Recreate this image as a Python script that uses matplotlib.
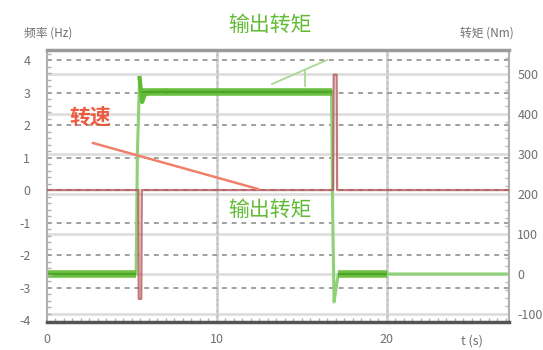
#!/usr/bin/env python

import numpy as np
import matplotlib
matplotlib.use('Agg')
import matplotlib.pyplot as plt
from matplotlib.ticker import MultipleLocator

plt.rcParams['font.family'] = ['Noto Sans CJK SC', 'DejaVu Sans']
plt.rcParams['axes.unicode_minus'] = False

# ======================== data ===============================================
# output torque (Nm, right axis)
torque_t = [0, 5.25, 5.32, 5.45, 5.6, 5.75, 6.0, 7.0, 16.75, 16.82, 16.9, 17.0, 17.15, 20.0, 27.2]
torque_v = [0, 0, 300, 490, 430, 448, 455, 458, 458, 150, -70, -40, 0, 0, 0]
# noisy (thick) stretches of the torque trace
band_start = [0, 5.6, 17.15]
band_end = [5.25, 16.75, 20.0]
band_level = [0, 455, 0]

# speed / frequency (Hz, left axis)
freq_t = [0, 5.38, 5.4, 5.55, 5.58, 16.85, 16.88, 17.05, 17.08, 27.2]
freq_v = [0, 0, -3.35, -3.35, 0, 0, 3.55, 3.55, 0, 0]

left_ticks = [-4, -3, -2, -1, 0, 1, 2, 3, 4]
right_ticks = [-100, 0, 100, 200, 300, 400, 500]
x_ticks = [0, 10, 20]

L_LIM = (-4.06, 4.31)
R_LIM = (-120, 560)
X_LIM = (0, 27.2)

green = '#62bb34'
green_light = '#8fd176'
red = '#b5575a'
grey_txt = '#707070'


def left_to_right(v):
    """map a left axis value onto the right axis scale"""
    f = (v - L_LIM[0]) / (L_LIM[1] - L_LIM[0])
    return R_LIM[0] + f * (R_LIM[1] - R_LIM[0])


fig = plt.figure(figsize=(5.43, 3.5), dpi=100)
ax1 = fig.add_axes([47/543, 1 - 322/350, 462/543, 272/350])
ax2 = ax1.twinx()
ax1.set_zorder(ax2.get_zorder() + 1)
ax1.patch.set_visible(False)

ax1.set_xlim(*X_LIM)
ax1.set_ylim(*L_LIM)
ax2.set_ylim(*R_LIM)

# grid: right axis solid light, left axis dashed, vertical light
for r in right_ticks:
    ax2.axhline(r, color='#dedede', lw=2, zorder=1)
for v in left_ticks[1:]:
    ax2.axhline(left_to_right(v), color='#a0a0a0', lw=1.4, ls=(0, (2.5, 2.5)), zorder=1.5)
for x in [10, 20]:
    ax2.axvline(x, color='#d2d2d2', lw=2, zorder=1)
    ax2.axvline(x, color='#b0b0b0', lw=1, ls=(0, (1, 3)), zorder=1.2)

# torque
ax2.plot(torque_t, torque_v, color=green_light, lw=2.2, zorder=3)
ax2.plot(torque_t[3:8], torque_v[3:8], color=green, lw=3, zorder=3.2)
ax2.hlines(band_level, band_start, band_end, color=green, lw=5.5, alpha=0.9, zorder=3.5)
ax2.hlines(band_level, band_start, band_end, color='#4ea628', lw=1.5, zorder=3.6)

# frequency
ax1.plot(freq_t, freq_v, color=red, lw=1.6, alpha=0.8, zorder=4)

# spines
for s in ['left', 'right']:
    ax1.spines[s].set_color('#b0b0b0')
    ax1.spines[s].set_linewidth(1.5)
ax1.spines['top'].set_color('#9a9a9a')
ax1.spines['top'].set_linewidth(2.5)
ax1.spines['bottom'].set_color('#555555')
ax1.spines['bottom'].set_linewidth(2.5)
for s in ax2.spines.values():
    s.set_visible(False)

ax1.set_yticks(left_ticks)
ax1.set_xticks(x_ticks)
ax2.set_yticks(right_ticks)
ax1.yaxis.set_minor_locator(MultipleLocator(0.2))
ax1.xaxis.set_minor_locator(MultipleLocator(0.5))
ax2.yaxis.set_minor_locator(MultipleLocator(20))

ax1.tick_params(axis='both', which='major', length=0, labelsize=9, labelcolor=grey_txt)
ax1.tick_params(axis='y', which='major', pad=12)
ax1.tick_params(axis='x', which='major', pad=8)
ax1.tick_params(axis='both', which='minor', direction='in', length=3, color='#b0b0b0', width=1)
ax2.tick_params(axis='y', which='major', length=0, labelsize=9, labelcolor=grey_txt, pad=6)
ax2.tick_params(axis='y', which='minor', direction='in', length=3, color='#b8b8b8', width=1)

# axis titles
fig.text(24/543, 1 - 33/350, '频率 (Hz)', fontsize=8.5, color=grey_txt, va='center', ha='left')
fig.text(460/543, 1 - 33/350, '转矩 (Nm)', fontsize=8.5, color=grey_txt, va='center', ha='left')
fig.text(472/543, 1 - 341/350, 't (s)', fontsize=9, color=grey_txt, va='center', ha='center')

# annotations
fig.text(270/543, 1 - 25/350, '输出转矩', fontsize=15, color=green, ha='center', va='center')
fig.text(270/543, 1 - 210/350, '输出转矩', fontsize=15, color=green, ha='center', va='center')
fig.text(90/543, 1 - 117/350, '转速', fontsize=15, color='#ea4a2c', ha='center', va='center',
         fontweight='bold', alpha=0.9)
fig.add_artist(plt.Line2D([93/543, 258/543], [1 - 143/350, 1 - 189/350],
                          color='#f0806c', lw=1.8, transform=fig.transFigure))
fig.add_artist(plt.Line2D([327/543, 272/543], [1 - 60/350, 1 - 84/350],
                          color='#a9d994', lw=1.3, transform=fig.transFigure))
fig.add_artist(plt.Line2D([305/543, 305/543], [1 - 70/350, 1 - 86/350],
                          color='#a9d994', lw=1.3, transform=fig.transFigure))

plt.savefig('out.png', dpi=100)
